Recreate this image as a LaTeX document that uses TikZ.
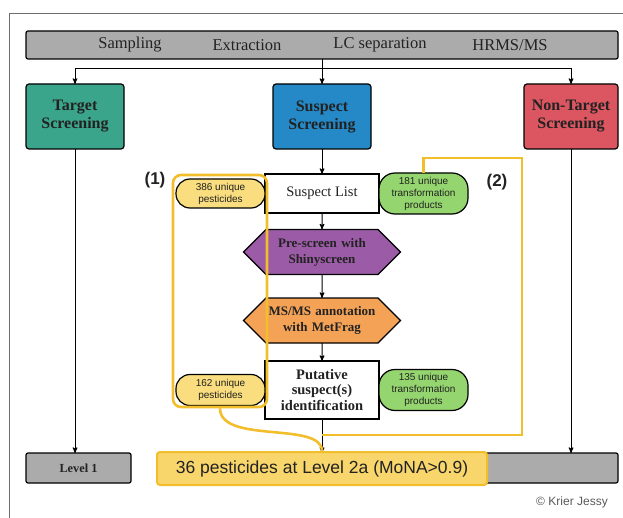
\documentclass[tikz,border=0pt]{standalone}
\usepackage{fontspec}
\setmainfont{Liberation Serif}
\newfontfamily\pillfont{Liberation Sans}
\usepackage{tikz}
\usetikzlibrary{arrows}
\usetikzlibrary{shapes.symbols}
\usetikzlibrary{positioning}

\definecolor{barGray}{HTML}{ABABAB}
\definecolor{frameGray}{HTML}{6E6E6E}
\definecolor{textDark}{HTML}{222222}
\definecolor{tealBox}{HTML}{3BA58B}
\definecolor{blueBox}{HTML}{2489C6}
\definecolor{redBox}{HTML}{DB5661}
\definecolor{hexPurple}{HTML}{9B5BA6}
\definecolor{hexOrange}{HTML}{F4A256}
\definecolor{pestYellow}{HTML}{F9DD7E}
\definecolor{tpGreen}{HTML}{94D56F}
\definecolor{goldLine}{HTML}{F2BE2C}
\definecolor{lvlYellow}{HTML}{F8D66C}

\begin{document}
\begin{tikzpicture}[x=1pt,y=-1pt,
  ->,>=stealth',line width=1pt,
  bar/.style={draw,fill=barGray,rounded corners=2pt,line width=1.2pt,inner sep=0pt,outer sep=0pt},
  bartext/.style={font=\fontsize{16.5}{19}\selectfont,text=textDark},
  box/.style={draw,rounded corners=3pt,line width=1.2pt,minimum width=98pt,minimum height=65pt,inner sep=0pt,outer sep=0pt,align=center,text=textDark,font=\fontsize{16}{18}\selectfont\bfseries},
  stage/.style={draw,fill=white,line width=1.2pt,inner sep=0pt,outer sep=0pt,minimum width=114pt,align=center,text=textDark},
  pill/.style={draw,line width=1.2pt,inner sep=0pt,outer sep=0pt,minimum width=89pt,align=center,text=textDark,font=\pillfont\fontsize{10}{12}\selectfont},
  gold/.style={draw=goldLine,line width=2.6pt,-},
  lab/.style={text=textDark,font=\pillfont\fontsize{17}{20}\selectfont\bfseries}]
      \tikzstyle{hexa}=[draw,signal,signal to=east and west,line width=1.2pt,text width=112pt,inner xsep=0pt,outer sep=0pt,minimum height=45pt,align=center,text=textDark,font=\fontsize{13}{16}\selectfont\bfseries]

     \useasboundingbox (0,0) rectangle (623,518);
     \draw[-,line width=0.9pt,frameGray] (9,518) -- (9,13) -- (623,13);

     % workflow bar
     \node [bar,minimum width=592pt,minimum height=28pt] (proc) at (322,45) {};
     \node [bartext] (samp) at (130,45) {Sampling};
     \node [bartext] (extr) at (247,45) {Extraction};
     \node [bartext] (lcsep) at (380,45) {LC separation};
     \node [bartext] (hrms) at (510,45) {HRMS/MS};

     % three screenings
     \node [box,fill=tealBox] (target) at (75,116.5) {Target\\Screening};
     \node [box,fill=blueBox] (suspect) at (322,116.5) {Suspect\\Screening};
     \node [box,fill=redBox,minimum width=94pt] (nontarget) at (571,116.5) {Non-Target\\Screening};

     \coordinate (split) at (322,69);
     \draw (proc.south) -- (suspect.north);
     \draw (split) -| (target.north);
     \draw (split) -| (nontarget.north);

     % suspect screening steps
     \node [stage,minimum height=39pt,font=\fontsize{14.5}{17}\selectfont] (list) at (322,193.5) {Suspect List};
     \node [pill,fill=pestYellow,minimum height=29pt,rounded corners=14pt,left=0pt of list] (pestone) {386 unique\\pesticides};
     \node [pill,fill=tpGreen,minimum height=41pt,rounded corners=16pt,right=0pt of list] (tpone) {181 unique\\transformation\\products};

     \node [hexa,fill=hexPurple] (prescreen) at (322,252) {Pre-screen with\\Shinyscreen};
     \node [hexa,fill=hexOrange] (metfrag) at (322,320.5) {MS/MS annotation\\with MetFrag};

     \node [stage,minimum height=58pt,font=\fontsize{14.5}{15.5}\selectfont\bfseries] (putative) at (322,390) {Putative\\suspect(s)\\identification};
     \node [pill,fill=pestYellow,minimum height=31pt,rounded corners=14pt,left=0pt of putative] (pesttwo) {162 unique\\pesticides};
     \node [pill,fill=tpGreen,minimum height=41pt,rounded corners=16pt,right=0pt of putative] (tptwo) {135 unique\\transformation\\products};

     \draw (suspect) -- (list);
     \draw (list) -- (prescreen);
     \draw (prescreen) -- (metfrag);
     \draw (metfrag) -- (putative);

     % levels
     \node [bar,minimum width=105pt,minimum height=30pt,text=textDark,font=\fontsize{12.3}{14}\selectfont\bfseries] (lvlone) at (78.5,468) {Level 1};
     \node [bar,minimum width=461pt,minimum height=30pt] (lvlbar) at (387.5,468) {};
     \draw (target.south) -- (target.south |- lvlone.north);
     \draw (nontarget.south) -- (nontarget.south |- lvlbar.north);
     \draw (putative) -- (putative |- lvlbar.north);

     % highlights
     \node [gold,rounded corners=8pt,minimum width=94pt,minimum height=232pt,inner sep=0pt] (groupone) at (220,291) {};
     \coordinate (loopa) at (322,435);
     \coordinate (loopc) at (522,158);
     \draw[gold] (loopa) -| (loopc) -| (tpone.north);

     \node [draw=goldLine,fill=lvlYellow,line width=2pt,rounded corners=3pt,minimum width=330pt,minimum height=33pt,inner sep=0pt,text=textDark,font=\pillfont\fontsize{17.5}{20}\selectfont] (lvltwo) at (322,468.5) {36 pesticides at Level 2a (MoNA>0.9)};
     \draw[gold] (groupone.south) .. controls +(0,36) and +(0,-30) .. (lvltwo.north);

     \node [lab] (numone) at (155,180) {(1)};
     \node [lab] (numtwo) at (497,182) {(2)};
     \node [text=black!65,font=\pillfont\fontsize{12}{14}\selectfont] (credit) at (572,502) {© Krier Jessy};

  \end{tikzpicture}
\end{document}
